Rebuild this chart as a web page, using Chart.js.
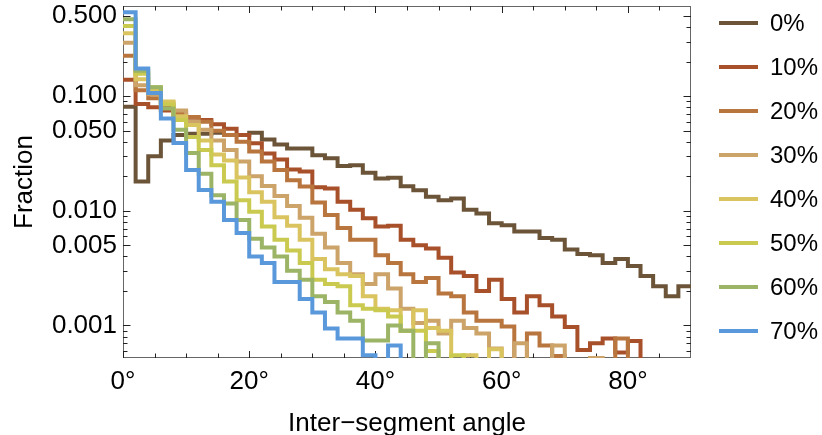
<!DOCTYPE html>
<html>
<head>
<meta charset="utf-8">
<script src="https://cdn.jsdelivr.net/npm/chart.js@4.4.1/dist/chart.umd.min.js"></script>
<style>
  html, body { margin: 0; padding: 0; background: #ffffff; }
  #wrap { position: relative; width: 822px; height: 435px; overflow: hidden; }
  #legend .swatch { position: absolute; left: 719px; width: 39px; height: 4px; }
  #legend .label { position: absolute; left: 770px; font: 24px "Liberation Sans", Arial, sans-serif; line-height: 24px; color: #000; white-space: nowrap; }
</style>
</head>
<body>
<div id="wrap">
  <canvas id="chart" width="822" height="435"></canvas>
  <div id="legend"></div>
</div>
<script>
// Histogram bin edges (degrees), 2° wide bins from 0° to 90°
const binEdges = [0, 2, 4, 6, 8, 10, 12, 14, 16, 18, 20, 22, 24, 26, 28, 30, 32, 34, 36, 38, 40, 42, 44,
  46, 48, 50, 52, 54, 56, 58, 60, 62, 64, 66, 68, 70, 72, 74, 76, 78, 80, 82, 84, 86, 88, 90];

// Fraction of inter-segment angles per bin; 0 marks an empty bin
const frac0 = [0.081, 0.018, 0.030, 0.041, 0.046, 0.047, 0.047, 0.048, 0.046, 0.046,
  0.048, 0.042, 0.038, 0.035, 0.035, 0.0306, 0.0288, 0.0246, 0.025, 0.0215,
  0.0192, 0.0194, 0.0164, 0.0151, 0.0133, 0.0124, 0.0128, 0.0102, 0.0095, 0.0078,
  0.0075, 0.0066, 0.0066, 0.0058, 0.0056, 0.0046, 0.0042, 0.0041, 0.0035, 0.0038,
  0.0033, 0.0027, 0.0022, 0.0018, 0.0022];
const frac10 = [0.139, 0.0855, 0.080, 0.075, 0.069, 0.065, 0.062, 0.057, 0.052, 0.046,
  0.0388, 0.0317, 0.028, 0.023, 0.022, 0.0161, 0.0157, 0.012, 0.0102, 0.0086,
  0.0073, 0.0074, 0.0056, 0.0050, 0.0047, 0.0039, 0.0029, 0.0027, 0.0020, 0.0025,
  0.0017, 0.0013, 0.0018, 0.0015, 0.0012, 0.00097, 0.00061, 0.0007, 0.00077, 0.00058,
  0.00073, 0, 0, 0, 0];
const frac20 = [0.226, 0.113, 0.096, 0.083, 0.072, 0.066, 0.060, 0.050, 0.046, 0.040,
  0.033, 0.027, 0.0227, 0.0185, 0.0163, 0.0118, 0.0092, 0.0071, 0.0056, 0.0056,
  0.0041, 0.0035, 0.0028, 0.0024, 0.0026, 0.0019, 0.0018, 0.0013, 0.0011, 0.0011,
  0.00098, 0, 0.00085, 0.00067, 0.00054, 0, 0, 0, 0, 0.00077,
  0, 0, 0, 0, 0];
const frac30 = [0.293, 0.125, 0.104, 0.088, 0.075, 0.060, 0.051, 0.041, 0.034, 0.027,
  0.020, 0.0165, 0.0135, 0.011, 0.0087, 0.0063, 0.0048, 0.0035, 0.0028, 0.0023,
  0.0028, 0.0021, 0.0014, 0.00105, 0.0011, 0.00085, 0.0011, 0.00095, 0.00085, 0.00063,
  0, 0.0007, 0, 0, 0.00067, 0, 0, 0.00052, 0, 0,
  0, 0, 0, 0, 0];
const frac40 = [0.354, 0.141, 0.112, 0.090, 0.067, 0.056, 0.041, 0.031, 0.0275, 0.0195,
  0.0145, 0.012, 0.0088, 0.0074, 0.0056, 0.0038, 0.0031, 0.0028, 0.0027, 0.0018,
  0.0014, 0.00136, 0.0009, 0.00136, 0.00095, 0.0009, 0, 0.00055, 0, 0.00062,
  0, 0, 0, 0, 0, 0, 0, 0, 0, 0,
  0, 0, 0, 0, 0];
const frac50 = [0.41, 0.157, 0.12, 0.085, 0.062, 0.044, 0.034, 0.025, 0.018, 0.0124,
  0.0098, 0.0073, 0.0056, 0.0045, 0.0035, 0.0025, 0.0023, 0.0022, 0.0015, 0.0014,
  0.00136, 0.0012, 0.0009, 0.0009, 0.0006, 0, 0.00055, 0, 0, 0,
  0, 0, 0, 0, 0, 0, 0, 0, 0, 0,
  0, 0, 0, 0, 0];
const frac60 = [0.47, 0.167, 0.12, 0.078, 0.051, 0.032, 0.0211, 0.0137, 0.0116, 0.0083,
  0.0057, 0.0048, 0.004, 0.003, 0.0025, 0.0018, 0.0016, 0.0013, 0.0011, 0.00074,
  0.00074, 0.001, 0.0009, 0, 0.0007, 0, 0, 0, 0, 0,
  0, 0, 0, 0, 0, 0, 0, 0, 0, 0,
  0, 0, 0, 0, 0];
const frac70 = [0.54, 0.175, 0.107, 0.064, 0.039, 0.0227, 0.0152, 0.012, 0.0083, 0.0064,
  0.004, 0.0035, 0.0024, 0.0024, 0.0017, 0.0013, 0.00094, 0.00077, 0.00077, 0.00055,
  0, 0.00067, 0, 0, 0, 0, 0, 0, 0, 0,
  0, 0, 0, 0, 0, 0, 0, 0, 0, 0,
  0, 0, 0, 0, 0];

const seriesLabels = ['0%', '10%', '20%', '30%', '40%', '50%', '60%', '70%'];
const seriesValues = [frac0, frac10, frac20, frac30, frac40, frac50, frac60, frac70];
const seriesColors = ['#6b5438', '#a8502a', '#b9753e', '#cca369', '#dac460', '#cbca50', '#9cb466', '#5a98dc'];

// Axis ticks
const xMajorTicks = [0, 20, 40, 60, 80];
const xMinorTicks = [5, 10, 15, 25, 30, 35, 45, 50, 55, 65, 70, 75, 85];
const yMajorTicks = [0.001, 0.005, 0.01, 0.05, 0.1, 0.5];
const yMinorTicks = [0.0006, 0.0007, 0.0008, 0.0009, 0.002, 0.003, 0.004, 0.006, 0.007, 0.008, 0.009,
  0.02, 0.03, 0.04, 0.06, 0.07, 0.08, 0.09, 0.2, 0.3, 0.4];

const Y_MIN = 0.00052, Y_MAX = 0.613;
const EMPTY_BIN = 1e-4; // empty bins drop below the visible range
const FONT = '"Liberation Sans", Arial, sans-serif';
const AXIS_FONT = { family: FONT, size: 26 };

// Step outline: one point per bin's left edge, plus the closing right edge
function histogramPoints(values) {
  const pts = values.map((v, i) => ({ x: binEdges[i], y: v > 0 ? v : EMPTY_BIN }));
  const last = values[values.length - 1];
  pts.push({ x: binEdges[values.length], y: last > 0 ? last : EMPTY_BIN });
  return pts;
}

const datasets = seriesValues.map((vals, i) => ({
  label: seriesLabels[i],
  data: histogramPoints(vals),
  borderColor: seriesColors[i],
  backgroundColor: seriesColors[i],
  borderWidth: 4,
  stepped: 'before',
  pointRadius: 0,
  fill: false,
  tension: 0,
  borderJoinStyle: 'miter',
  borderCapStyle: 'butt',
  order: seriesValues.length - i // higher percentages drawn on top
}));

// Frame with inward ticks on all four sides
const frameTicks = {
  id: 'frameTicks',
  beforeDatasetsDraw(chart) {
    const { ctx, chartArea: a, scales: { x, y } } = chart;
    ctx.save();
    ctx.strokeStyle = '#666666';
    ctx.lineWidth = 1;
    ctx.strokeRect(a.left + 0.5, a.top + 0.5, a.right - a.left - 1, a.bottom - a.top - 1);
    ctx.strokeStyle = '#222222';
    ctx.beginPath();
    const xt = (v, len) => {
      const px = Math.round(x.getPixelForValue(v)) + 0.5;
      ctx.moveTo(px, a.bottom); ctx.lineTo(px, a.bottom - len);
      ctx.moveTo(px, a.top); ctx.lineTo(px, a.top + len);
    };
    const yt = (v, len) => {
      const py = Math.round(y.getPixelForValue(v)) + 0.5;
      if (py < a.top + 1 || py > a.bottom - 1) return;
      ctx.moveTo(a.left, py); ctx.lineTo(a.left + len, py);
      ctx.moveTo(a.right, py); ctx.lineTo(a.right - len, py);
    };
    xMajorTicks.forEach(v => xt(v, 7));
    xMinorTicks.forEach(v => xt(v, 4.5));
    yMajorTicks.forEach(v => yt(v, 7.5));
    yMinorTicks.forEach(v => yt(v, 4.5));
    ctx.stroke();
    ctx.restore();
  }
};

new Chart(document.getElementById('chart'), {
  type: 'line',
  data: { datasets },
  options: {
    responsive: false,
    animation: false,
    devicePixelRatio: 1,
    layout: { padding: { top: 6, right: 131, bottom: 0, left: 0 } },
    plugins: { legend: { display: false }, tooltip: { enabled: false } },
    scales: {
      x: {
        type: 'linear', min: 0, max: 90,
        afterFit(s) { s.height = 77; s.paddingLeft = 0; s.paddingRight = 0; },
        afterBuildTicks(s) { s.ticks = xMajorTicks.map(v => ({ value: v })); },
        ticks: { callback: v => v + '°', font: AXIS_FONT, color: '#000', padding: 8, maxRotation: 0, autoSkip: false },
        grid: { display: false, drawTicks: false },
        border: { display: false },
        title: { display: true, text: 'Inter−segment angle', font: AXIS_FONT, color: '#000', padding: { top: 0, bottom: -4 } }
      },
      y: {
        type: 'logarithmic', min: Y_MIN, max: Y_MAX,
        afterFit(s) { s.width = 123; s.paddingTop = 0; s.paddingBottom = 0; },
        afterBuildTicks(s) { s.ticks = yMajorTicks.map(v => ({ value: v })); },
        ticks: { callback: v => Number(v).toFixed(3), font: AXIS_FONT, color: '#000', padding: 6, autoSkip: false },
        grid: { display: false, drawTicks: false },
        border: { display: false },
        title: { display: true, text: 'Fraction', font: AXIS_FONT, color: '#000', padding: { top: 9, bottom: 0 } }
      }
    }
  },
  plugins: [frameTicks]
});

// Legend: line sample and label for each series
const legend = document.getElementById('legend');
seriesLabels.forEach((lab, i) => {
  const cy = 22.7 + 44 * i;
  const sw = document.createElement('div');
  sw.className = 'swatch';
  sw.style.top = (cy - 2) + 'px';
  sw.style.background = seriesColors[i];
  legend.appendChild(sw);
  const tx = document.createElement('div');
  tx.className = 'label';
  tx.style.top = (cy - 11.7) + 'px';
  tx.textContent = lab;
  legend.appendChild(tx);
});
</script>
</body>
</html>
